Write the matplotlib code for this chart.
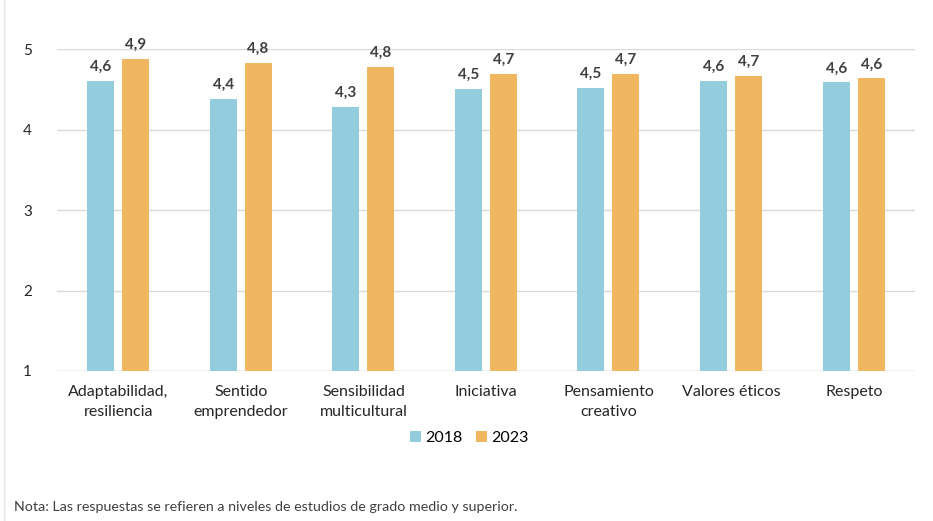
import matplotlib.pyplot as plt
import numpy as np

categorias = ['Adaptabilidad,\nresiliencia', 'Sentido\nemprendedor', 'Sensibilidad\nmulticultural',
              'Iniciativa', 'Pensamiento\ncreativo', 'Valores éticos', 'Respeto']
v2018 = [4.61, 4.39, 4.29, 4.51, 4.52, 4.61, 4.59]
v2023 = [4.88, 4.83, 4.78, 4.70, 4.70, 4.67, 4.64]
yticks = [1, 2, 3, 4, 5]

plt.rcParams['font.family'] = ['Lato', 'DejaVu Sans']

fig = plt.figure(figsize=(9.33, 5.21), dpi=100)
ax = fig.add_axes([0.061, 0.288, 0.92, 0.617])

x = np.arange(len(categorias))
w = 0.22
b1 = ax.bar(x - 0.145, np.array(v2018) - 1, w, bottom=1, color='#93CDDD', label='2018')
b2 = ax.bar(x + 0.14, np.array(v2023) - 1, w, bottom=1, color='#F0B660', label='2023')

for bars, vals in ((b1, v2018), (b2, v2023)):
    for r, v in zip(bars, vals):
        ax.annotate(f'{v:.1f}'.replace('.', ','), (r.get_x() + r.get_width() / 2, v),
                    xytext=(0, 5), textcoords='offset points', ha='center', va='bottom',
                    fontsize=11, fontweight='bold', color='#404040', annotation_clip=False)

ax.set_xlim(-0.5, len(categorias) - 0.5)
ax.set_ylim(1, 5)
ax.set_yticks(yticks)
ax.set_xticks(x)
ax.set_xticklabels(categorias, fontsize=11.5, color='#262626', linespacing=1.6)
ax.tick_params(axis='y', labelsize=11, colors='#262626', length=0, pad=18)
ax.tick_params(axis='x', length=0, pad=10)
ax.grid(axis='y', color='#D9D9D9', linewidth=1)
ax.set_axisbelow(True)
for s in ax.spines.values():
    s.set_visible(False)
ax.axhline(1, color='#D9D9D9', linewidth=1, zorder=0)

fig.legend(handles=[b1, b2], loc='center', bbox_to_anchor=(0.503, 0.16), ncol=2,
           frameon=False, fontsize=11.5, handlelength=0.7, handleheight=0.7,
           handletextpad=0.3, columnspacing=0.8)

fig.text(0.015, 0.027, 'Nota: Las respuestas se refieren a niveles de estudios de grado medio y superior.',
         fontsize=10.3, color='#404040', va='center')
fig.add_artist(plt.Line2D([0.004, 0.004], [0, 1], color='#E6E6E6', linewidth=1))

fig.savefig('out.png', dpi=100)
